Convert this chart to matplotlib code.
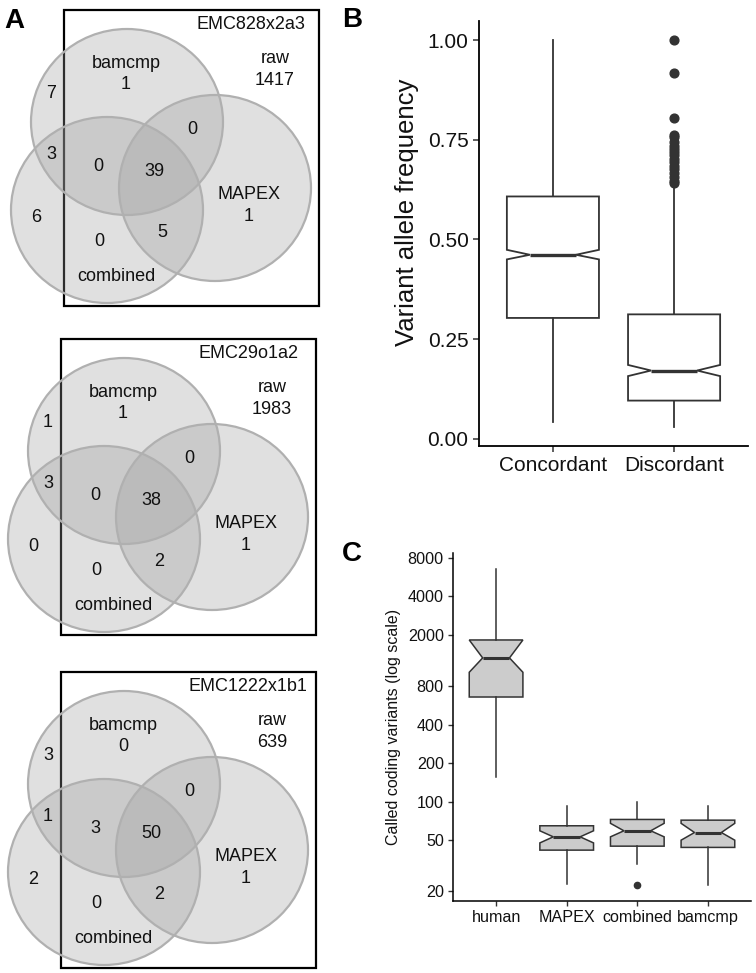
import matplotlib
matplotlib.use("Agg")
import matplotlib.pyplot as plt
from matplotlib.patches import Ellipse, Rectangle
from matplotlib.ticker import NullLocator, FixedLocator, FixedFormatter

plt.rcParams['font.family'] = ['Liberation Sans', 'DejaVu Sans']

W, H = 756, 973
fig = plt.figure(figsize=(W / 100, H / 100), dpi=100)

# ---------------- data ----------------
# Panel A: Venn counts per sample
samples = ["EMC828x2a3", "EMC29o1a2", "EMC1222x1b1"]
raw_counts = [1417, 1983, 639]
bamcmp_only = [1, 1, 0]
mapex_only = [1, 1, 1]
combined_only = [0, 0, 0]
bamcmp_mapex = [0, 0, 0]
bamcmp_combined = [0, 0, 3]
combined_mapex = [5, 2, 2]
all_three = [39, 38, 50]
bamcmp_not_raw = [7, 1, 3]
bamcmp_combined_not_raw = [3, 3, 1]
combined_not_raw = [6, 0, 2]

# Panel B: variant allele frequency box stats
vaf_groups = ["Concordant", "Discordant"]
vaf_whislo = [0.043, 0.028]
vaf_q1 = [0.303, 0.0955]
vaf_med = [0.4616, 0.171]
vaf_q3 = [0.608, 0.312]
vaf_whishi = [1.00, 0.638]
vaf_cilo = [0.450, 0.157]
vaf_cihi = [0.474, 0.185]
vaf_outliers = [[], [1.00, 0.917, 0.806, 0.763, 0.757, 0.744, 0.735, 0.727,
                     0.720, 0.712, 0.703, 0.694, 0.685, 0.676, 0.667, 0.657,
                     0.648, 0.642]]

# Panel C: called coding variants box stats
callers = ["human", "MAPEX", "combined", "bamcmp"]
calls_whislo = [156, 23.0, 32.5, 22.4]
calls_q1 = [656, 41.9, 45.0, 44.0]
calls_med = [1324, 53.2, 59.3, 57.5]
calls_q3 = [1828, 64.9, 72.7, 71.8]
calls_whishi = [6560, 92.4, 99.8, 92.4]
calls_cilo = [1023, 47.7, 53.2, 50.1]
calls_cihi = [1828, 59.3, 67.8, 67.8]
calls_outliers = [[], [], [22.3], []]
calls_ticks = [20, 50, 100, 200, 400, 800, 2000, 4000, 8000]


def px_axes(left, top, right, bottom):
    return fig.add_axes([left / W, 1 - bottom / H, (right - left) / W, (bottom - top) / H])


TXT = '#111111'

# ---------------- Panel A ----------------
axA = px_axes(0, 0, 335, H)
axA.set_xlim(0, 335)
axA.set_ylim(H, 0)
axA.axis('off')

origins = [(64, 10), (61, 339), (61, 672)]
rect_w, rect_h = 255, 296
circ_centers = {'bamcmp': (63, 112), 'combined': (43, 200), 'MAPEX': (151, 178)}
rx, ry = 96, 93
fs_venn = 13
base_off = 6.3  # baseline offset from visual centre

def vtext(ox, oy, x, y, s, **kw):
    axA.text(ox + x, oy + y + base_off, s, ha='center', va='baseline',
             fontsize=fs_venn, color=TXT, zorder=5, **kw)

for i in range(3):
    ox, oy = origins[i]
    axA.add_patch(Rectangle((ox, oy), rect_w, rect_h, facecolor='none',
                            edgecolor='black', lw=1.6, zorder=1))
    for name, (cx, cy) in circ_centers.items():
        axA.add_patch(Ellipse((ox + cx, oy + cy), 2 * rx, 2 * ry, facecolor='#999999',
                              alpha=0.3, edgecolor='none', zorder=2))
    for name, (cx, cy) in circ_centers.items():
        axA.add_patch(Ellipse((ox + cx, oy + cy), 2 * rx, 2 * ry, facecolor='none',
                              edgecolor='#b0b0b0', lw=1.6, zorder=3))
    vtext(ox, oy, 187, 13, samples[i])
    vtext(ox, oy, 211, 47, "raw")
    vtext(ox, oy, 211, 69, str(raw_counts[i]))
    vtext(ox, oy, 62, 52, "bamcmp")
    vtext(ox, oy, 62, 73, str(bamcmp_only[i]))
    vtext(ox, oy, 185, 183, "MAPEX")
    vtext(ox, oy, 185, 205, str(mapex_only[i]))
    vtext(ox, oy, 52, 265, "combined")
    vtext(ox, oy, 35, 230, str(combined_only[i]))
    vtext(ox, oy, 128, 118, str(bamcmp_mapex[i]))
    vtext(ox, oy, 34, 155, str(bamcmp_combined[i]))
    vtext(ox, oy, 98, 221, str(combined_mapex[i]))
    vtext(ox, oy, 90, 160, str(all_three[i]))
    vtext(ox, oy, -13, 82, str(bamcmp_not_raw[i]))
    vtext(ox, oy, -13, 143, str(bamcmp_combined_not_raw[i]))
    vtext(ox, oy, -28, 206, str(combined_not_raw[i]))

# ---------------- Panel B ----------------
EDGE = '#333333'
axB = px_axes(479, 21, 748, 446)
statsB = []
for k in range(len(vaf_groups)):
    statsB.append(dict(med=vaf_med[k], q1=vaf_q1[k], q3=vaf_q3[k],
                       whislo=vaf_whislo[k], whishi=vaf_whishi[k],
                       cilo=vaf_cilo[k], cihi=vaf_cihi[k],
                       fliers=vaf_outliers[k], label=vaf_groups[k]))
axB.bxp(statsB, positions=[1, 2], widths=0.76, patch_artist=True,
        shownotches=True, showcaps=False,
        boxprops=dict(facecolor='white', edgecolor=EDGE, linewidth=1.3),
        whiskerprops=dict(color=EDGE, linewidth=1.3),
        medianprops=dict(color=EDGE, linewidth=2.4, solid_capstyle='butt'),
        flierprops=dict(marker='o', markerfacecolor=EDGE, markeredgecolor=EDGE,
                        markersize=6.3, linestyle='none'))
axB.set_xlim(0.39, 2.61)
axB.set_ylim(-0.0185, 1.0485)
axB.set_yticks([0.0, 0.25, 0.5, 0.75, 1.0])
axB.set_yticklabels(["0.00", "0.25", "0.50", "0.75", "1.00"])
axB.set_xticks([1, 2])
axB.set_xticklabels(vaf_groups)
for sp in ['top', 'right']:
    axB.spines[sp].set_visible(False)
for sp in ['left', 'bottom']:
    axB.spines[sp].set_linewidth(1.3)
    axB.spines[sp].set_color('black')
axB.tick_params(length=4.5, width=1.1, color=EDGE, labelsize=15, pad=3,
                labelcolor=TXT)
fig.text(407 / W, 1 - 212 / H, "Variant allele frequency", rotation=90,
         ha='center', va='center', fontsize=18.5, color=TXT)

# ---------------- Panel C ----------------
axC = px_axes(453, 553, 751, 901)
statsC = []
for k in range(len(callers)):
    statsC.append(dict(med=calls_med[k], q1=calls_q1[k], q3=calls_q3[k],
                       whislo=calls_whislo[k], whishi=calls_whishi[k],
                       cilo=calls_cilo[k], cihi=calls_cihi[k],
                       fliers=calls_outliers[k], label=callers[k]))
axC.set_yscale('log')
axC.bxp(statsC, positions=[1, 2, 3, 4], widths=0.76, patch_artist=True,
        shownotches=True, showcaps=False,
        boxprops=dict(facecolor='#cccccc', edgecolor=EDGE, linewidth=1.1),
        whiskerprops=dict(color=EDGE, linewidth=1.1),
        medianprops=dict(color=EDGE, linewidth=2.2, solid_capstyle='butt'),
        flierprops=dict(marker='o', markerfacecolor=EDGE, markeredgecolor=EDGE,
                        markersize=4.5, linestyle='none'))
axC.set_xlim(0.39, 4.61)
axC.set_ylim(16.8, 8720)
axC.yaxis.set_major_locator(FixedLocator(calls_ticks))
axC.yaxis.set_major_formatter(FixedFormatter([str(t) for t in calls_ticks]))
axC.yaxis.set_minor_locator(NullLocator())
axC.set_xticks([1, 2, 3, 4])
axC.set_xticklabels(callers)
for sp in ['top', 'right']:
    axC.spines[sp].set_visible(False)
for sp in ['left', 'bottom']:
    axC.spines[sp].set_linewidth(1.1)
    axC.spines[sp].set_color('black')
axC.tick_params(length=3.6, width=1.0, color=EDGE, labelsize=11.6, pad=3,
                labelcolor=TXT)
fig.text(393 / W, 1 - 727 / H, "Called coding variants (log scale)", rotation=90,
         ha='center', va='center', fontsize=11.5, color=TXT)

# ---------------- panel letters ----------------
for lab, x, y in [("A", 4, 28), ("B", 342, 27), ("C", 342, 561)]:
    fig.text(x / W, 1 - y / H, lab, ha='left', va='baseline', fontsize=20,
             fontweight='bold', color='black')

fig.savefig("out.png", dpi=100)
